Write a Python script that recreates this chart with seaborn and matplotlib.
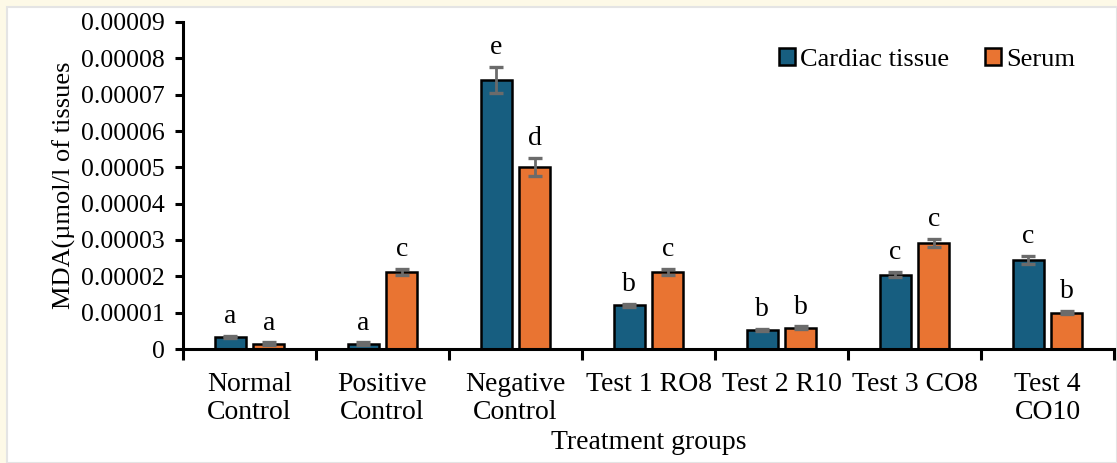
import numpy as np
import pandas as pd
import seaborn as sns
import matplotlib
matplotlib.use("Agg")
import matplotlib.pyplot as plt
from matplotlib.patches import Rectangle
from matplotlib.ticker import FixedLocator, FuncFormatter

# MDA levels per treatment group
groups = ["Normal\nControl", "Positive\nControl", "Negative\nControl",
          "Test 1 RO8", "Test 2 R10", "Test 3 CO8", "Test 4\nCO10"]
series = ["Cardiac tissue", "Serum"]
cardiac = [3.3e-6, 1.5e-6, 7.4e-5, 1.2e-5, 5.3e-6, 2.05e-5, 2.45e-5]
serum = [1.5e-6, 2.12e-5, 5.0e-5, 2.12e-5, 5.8e-6, 2.92e-5, 1.0e-5]
cardiac_err = [0.4e-6, 0.3e-6, 3.6e-6, 0.5e-6, 0.3e-6, 0.8e-6, 1.0e-6]
serum_err = [0.3e-6, 0.9e-6, 2.5e-6, 0.8e-6, 0.4e-6, 1.2e-6, 0.5e-6]
cardiac_sig = ["a", "a", "e", "b", "b", "c", "c"]
serum_sig = ["a", "c", "d", "c", "b", "c", "b"]
yticks = [0, 1e-5, 2e-5, 3e-5, 4e-5, 5e-5, 6e-5, 7e-5, 8e-5, 9e-5]

colors = ["#175e80", "#e97432"]

df = pd.DataFrame({
    "group": groups * 2,
    "series": [series[0]] * len(groups) + [series[1]] * len(groups),
    "value": cardiac + serum,
})

sns.set_style("white")
plt.rcParams["font.family"] = ["Liberation Serif", "DejaVu Serif"]
plt.rcParams.update({"text.color": "black", "axes.labelcolor": "black",
                     "xtick.color": "black", "ytick.color": "black"})

W, H = 1117, 463
fig = plt.figure(figsize=(W / 100, H / 100), dpi=100)
fig.patch.set_facecolor("#fdf9e7")
panel = Rectangle((7 / W, 0), 1 - 7 / W, 1 - 7 / H,
                  transform=fig.transFigure, facecolor="white",
                  edgecolor="#e4e4e4", linewidth=1.5, zorder=-10)
fig.add_artist(panel)

ax = fig.add_axes([183 / W, 1 - 349 / H, (1114 - 183) / W, (349 - 22) / H])
ax.set_facecolor("none")
ax.set_zorder(5)

sns.barplot(data=df, x="group", y="value", hue="series", palette=colors,
            saturation=1, width=0.58, gap=0.2, edgecolor="black",
            linewidth=1.8, errorbar=None, ax=ax, zorder=2)

errs = [cardiac_err, serum_err]
sigs = [cardiac_sig, serum_sig]
for cont, err, sig in zip(ax.containers, errs, sigs):
    xs = [p.get_x() + p.get_width() / 2 for p in cont.patches]
    hs = [p.get_height() for p in cont.patches]
    ax.errorbar(xs, hs, yerr=err, fmt="none", ecolor="#6b6b6b",
                elinewidth=2.0, capsize=5, capthick=2.4, zorder=3)
    for x, h, e, s in zip(xs, hs, err, sig):
        ax.annotate(s, (x, h + e), xytext=(0, 5), textcoords="offset points",
                    ha="center", va="bottom", fontsize=20, color="black")

ax.set_ylim(0, 9e-5)
ax.set_xlim(-0.5, len(groups) - 0.5)
ax.yaxis.set_major_locator(FixedLocator(yticks))
ax.yaxis.set_major_formatter(FuncFormatter(lambda v, p: "0" if v == 0 else f"{v:.5f}"))
ax.xaxis.set_minor_locator(FixedLocator(np.arange(-0.5, len(groups), 1.0)))

for side in ["top", "right"]:
    ax.spines[side].set_visible(False)
for side in ["left", "bottom"]:
    ax.spines[side].set_linewidth(2.2)
    ax.spines[side].set_color("black")

ax.tick_params(axis="y", which="major", left=True, length=6, width=2.2,
               labelsize=18.5, pad=7, color="black", labelcolor="black")
ax.tick_params(axis="x", which="major", bottom=False, labelsize=20, pad=13,
               labelcolor="black")
ax.tick_params(axis="x", which="minor", bottom=True, length=8, width=2.2,
               direction="out", color="black")
for lab in ax.get_xticklabels():
    lab.set_linespacing(1.15)

ax.set_xlabel("Treatment groups", fontsize=20, labelpad=4, color="black")
ax.set_ylabel("MDA(µmol/l of tissues", fontsize=19, labelpad=4, color="black")

handles, labels = ax.get_legend_handles_labels()
ax.legend(handles, labels, loc="upper right", bbox_to_anchor=(0.958, 0.92),
          borderaxespad=0, borderpad=0, frameon=False, ncol=2, fontsize=19,
          handlelength=0.6, handleheight=0.6, handletextpad=0.2,
          columnspacing=1.35, labelcolor="black")

fig.savefig("out.png", dpi=100, facecolor=fig.get_facecolor())
